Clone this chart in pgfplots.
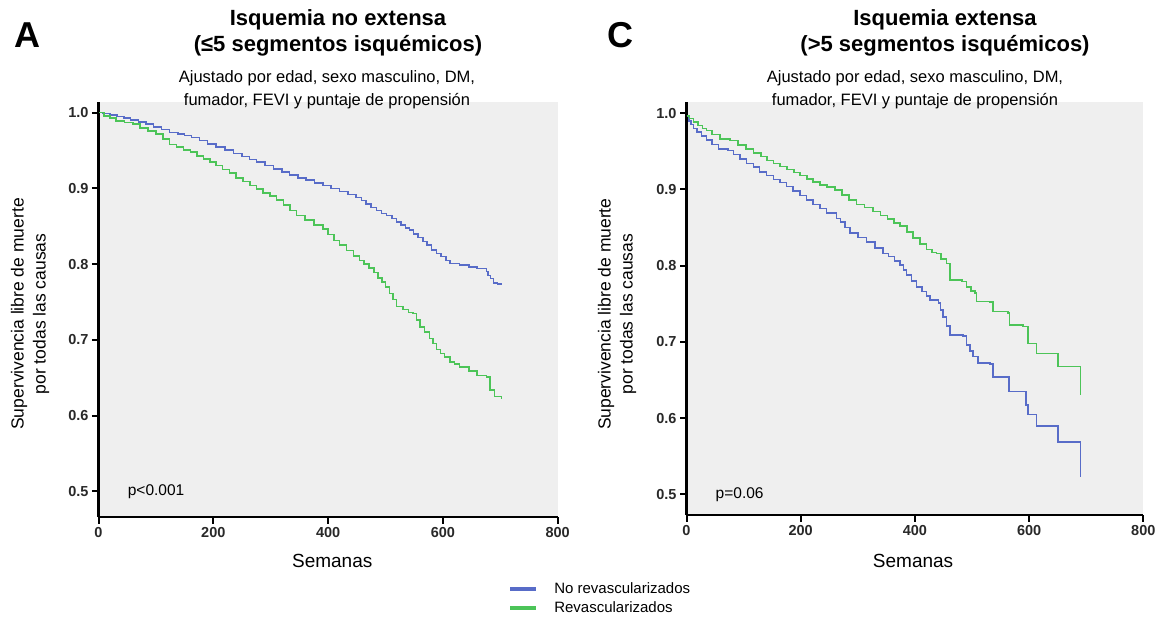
\documentclass[border=0pt]{standalone}
\usepackage{pgfplots}
\usepackage{pgfplotstable}
\pgfplotsset{compat=1.18}
\usepackage{fontspec}
\setmainfont{Liberation Sans}

\definecolor{kmblue}{RGB}{88,108,200}
\definecolor{kmgreen}{RGB}{76,196,88}
\definecolor{panelbg}{RGB}{239,239,239}
\definecolor{ticktext}{RGB}{40,40,40}

\tikzset{kmtick/.style={black, line width=2pt}}

% Kaplan-Meier estimates (weeks, survival)
\pgfplotstableread{
t s
0 1.000
8 0.999
20 0.997
32 0.995
44 0.993
56 0.990
70 0.988
83 0.985
96 0.981
110 0.978
124 0.974
138 0.972
150 0.970
162 0.967
176 0.963
190 0.959
205 0.955
220 0.951
235 0.946
250 0.942
263 0.938
275 0.935
290 0.930
305 0.926
320 0.922
333 0.918
348 0.914
362 0.911
376 0.907
391 0.904
405 0.900
420 0.896
435 0.892
449 0.888
458 0.884
466 0.879
475 0.875
484 0.871
493 0.867
502 0.864
511 0.860
519 0.856
527 0.852
535 0.848
542 0.845
549 0.840
557 0.835
565 0.830
572 0.825
580 0.819
589 0.814
597 0.810
605 0.805
612 0.801
629 0.799
645 0.796
659 0.794
676 0.790
679 0.785
683 0.781
688 0.775
695 0.774
702 0.772
}\noExtNoRev

\pgfplotstableread{
t s
0 1.000
10 0.996
20 0.993
31 0.989
45 0.987
60 0.985
72 0.980
86 0.976
100 0.972
112 0.965
124 0.958
136 0.955
148 0.951
160 0.948
172 0.943
183 0.939
194 0.935
205 0.930
216 0.925
228 0.920
240 0.914
252 0.909
264 0.904
275 0.899
287 0.894
299 0.890
310 0.885
322 0.878
334 0.871
345 0.864
360 0.858
375 0.852
391 0.846
400 0.839
410 0.831
420 0.825
432 0.818
444 0.811
455 0.805
463 0.800
471 0.795
480 0.789
487 0.782
494 0.776
500 0.770
507 0.761
513 0.753
519 0.744
530 0.740
540 0.736
548 0.735
554 0.726
560 0.717
568 0.710
577 0.702
583 0.695
589 0.687
596 0.682
603 0.677
612 0.671
620 0.668
629 0.664
645 0.659
659 0.653
676 0.651
682 0.634
690 0.625
702 0.622
}\noExtRev

\pgfplotstableread{
t s
0 0.996
4 0.990
8 0.985
12 0.980
18 0.975
26 0.970
35 0.965
45 0.959
56 0.953
73 0.951
82 0.946
94 0.940
105 0.934
117 0.929
128 0.923
140 0.918
152 0.913
164 0.909
175 0.904
187 0.898
199 0.892
210 0.886
222 0.880
234 0.875
245 0.869
263 0.862
270 0.857
278 0.850
286 0.843
300 0.837
315 0.831
330 0.823
344 0.816
354 0.812
364 0.806
374 0.801
380 0.794
385 0.788
394 0.780
403 0.772
412 0.766
420 0.760
426 0.755
441 0.751
445 0.742
449 0.733
455 0.721
461 0.709
484 0.708
490 0.696
496 0.688
502 0.681
511 0.672
531 0.671
537 0.654
565 0.635
595 0.617
598 0.605
613 0.590
651 0.569
690 0.523
}\extNoRev

\pgfplotstableread{
t s
0 0.996
5 0.993
12 0.988
20 0.984
28 0.980
35 0.977
45 0.972
59 0.966
76 0.964
90 0.958
104 0.953
117 0.948
130 0.943
141 0.938
152 0.934
164 0.930
176 0.926
188 0.922
199 0.918
211 0.914
222 0.910
234 0.906
246 0.903
260 0.899
272 0.893
285 0.886
298 0.880
312 0.876
327 0.871
340 0.866
352 0.861
363 0.856
374 0.852
386 0.844
397 0.836
409 0.828
420 0.821
430 0.817
438 0.816
446 0.809
455 0.803
461 0.781
482 0.779
490 0.772
498 0.767
505 0.764
508 0.753
531 0.752
537 0.740
563 0.738
566 0.722
589 0.720
598 0.698
613 0.685
651 0.668
690 0.630
}\extRev

\pgfplotsset{
  kmaxis/.style={
    scale only axis,
    anchor=south west,
    xmin=0, xmax=800,
    xtick={0,200,400,600,800},
    ytick={0.5,0.6,0.7,0.8,0.9,1.0},
    axis x line=bottom, axis y line=left,
    axis line style={-, line width=2.6pt, black},
    tick align=outside,
    major tick length=6.5pt,
    tick style={black, line width=2pt},
    axis background/.style={fill=panelbg},
    tick label style={font=\fontsize{14.5}{15}\selectfont\bfseries, text=ticktext},
    /pgf/number format/assume math mode=true,
    yticklabel style={/pgf/number format/fixed, /pgf/number format/fixed zerofill, /pgf/number format/precision=1},
    label style={font=\fontsize{19}{22}\selectfont},
    xlabel={Semanas},
    xlabel style={anchor=center},
    ylabel={Supervivencia libre de muerte\\por todas las causas},
    ylabel style={align=center, anchor=center, font=\fontsize{17.5}{22}\selectfont},
    clip=false,
  },
  kmline/.style={const plot, no markers, line width=1.6pt},
}

\begin{document}
\begin{tikzpicture}
% page frame
\path (0pt,0pt) rectangle (1161pt,622pt);

% Panel A: non-extensive ischaemia
\begin{axis}[kmaxis,
  at={(98.5pt,105pt)}, width=459.2pt, height=415.3pt,
  ymin=0.466, ymax=1.0145,
  xlabel style={at={(axis description cs:0.509,-0.106)}},
  ylabel style={at={(axis description cs:-0.149,0.489)}},
  legend style={at={(0.892,-0.152)}, anchor=north west, draw=none, fill=none,
    font=\fontsize{15}{16}\selectfont, row sep=3pt, inner sep=0pt},
  legend cell align=left,
  legend image code/.code={\draw[line width=4pt] (0pt,0pt) -- (26pt,0pt); \path[draw=none] (0pt,0pt) -- (42pt,0pt);},
]
\addplot[kmline, kmblue] table[x=t, y=s] {\noExtNoRev};
\addlegendentry{No revascularizados}
\addplot[kmline, kmgreen] table[x=t, y=s] {\noExtRev};
\addlegendentry{Revascularizados}
\node[anchor=west, font=\fontsize{15.5}{16}\selectfont] at (axis cs:45,0.5) {p<0.001};
% outward tick marks
\draw[kmtick] (axis cs:0,0.5) -- ++(-7pt,0pt);
\draw[kmtick] (axis cs:0,0.6) -- ++(-7pt,0pt);
\draw[kmtick] (axis cs:0,0.7) -- ++(-7pt,0pt);
\draw[kmtick] (axis cs:0,0.8) -- ++(-7pt,0pt);
\draw[kmtick] (axis cs:0,0.9) -- ++(-7pt,0pt);
\draw[kmtick] (axis cs:0,1.0) -- ++(-7pt,0pt);
\draw[kmtick] (axis cs:0,0.466) -- ++(0pt,-7pt);
\draw[kmtick] (axis cs:200,0.466) -- ++(0pt,-7pt);
\draw[kmtick] (axis cs:400,0.466) -- ++(0pt,-7pt);
\draw[kmtick] (axis cs:600,0.466) -- ++(0pt,-7pt);
\draw[kmtick] (axis cs:800,0.466) -- ++(0pt,-7pt);
\end{axis}

% Panel C: extensive ischaemia
\begin{axis}[kmaxis,
  at={(686.5pt,107pt)}, width=456.8pt, height=413.3pt,
  ymin=0.473, ymax=1.015,
  xlabel style={at={(axis description cs:0.496,-0.111)}},
  ylabel style={at={(axis description cs:-0.152,0.486)}},
]
\addplot[kmline, kmblue] table[x=t, y=s] {\extNoRev};
\addplot[kmline, kmgreen] table[x=t, y=s] {\extRev};
\node[anchor=west, font=\fontsize{15.5}{16}\selectfont] at (axis cs:45,0.5) {p=0.06};
% outward tick marks
\draw[kmtick] (axis cs:0,0.5) -- ++(-7pt,0pt);
\draw[kmtick] (axis cs:0,0.6) -- ++(-7pt,0pt);
\draw[kmtick] (axis cs:0,0.7) -- ++(-7pt,0pt);
\draw[kmtick] (axis cs:0,0.8) -- ++(-7pt,0pt);
\draw[kmtick] (axis cs:0,0.9) -- ++(-7pt,0pt);
\draw[kmtick] (axis cs:0,1.0) -- ++(-7pt,0pt);
\draw[kmtick] (axis cs:0,0.473) -- ++(0pt,-7pt);
\draw[kmtick] (axis cs:200,0.473) -- ++(0pt,-7pt);
\draw[kmtick] (axis cs:400,0.473) -- ++(0pt,-7pt);
\draw[kmtick] (axis cs:600,0.473) -- ++(0pt,-7pt);
\draw[kmtick] (axis cs:800,0.473) -- ++(0pt,-7pt);
\end{axis}

% Panel letters and titles
\node[font=\fontsize{36}{40}\selectfont\bfseries] at (27pt,587pt) {A};
\node[font=\fontsize{36}{40}\selectfont\bfseries] at (620pt,587pt) {C};

\node[font=\fontsize{22}{26}\selectfont\bfseries, align=center] at (338pt,589pt)
  {Isquemia no extensa\\(≤5 segmentos isquémicos)};
\node[font=\fontsize{16.5}{23}\selectfont, align=center] at (327pt,532.5pt)
  {Ajustado por edad, sexo masculino, DM,\\fumador, FEVI y puntaje de propensión};

\node[font=\fontsize{22}{26}\selectfont\bfseries, align=center] at (945pt,589pt)
  {Isquemia extensa\\(>5 segmentos isquémicos)};
\node[font=\fontsize{16.5}{23}\selectfont, align=center] at (915pt,532.5pt)
  {Ajustado por edad, sexo masculino, DM,\\fumador, FEVI y puntaje de propensión};
\end{tikzpicture}
\end{document}
